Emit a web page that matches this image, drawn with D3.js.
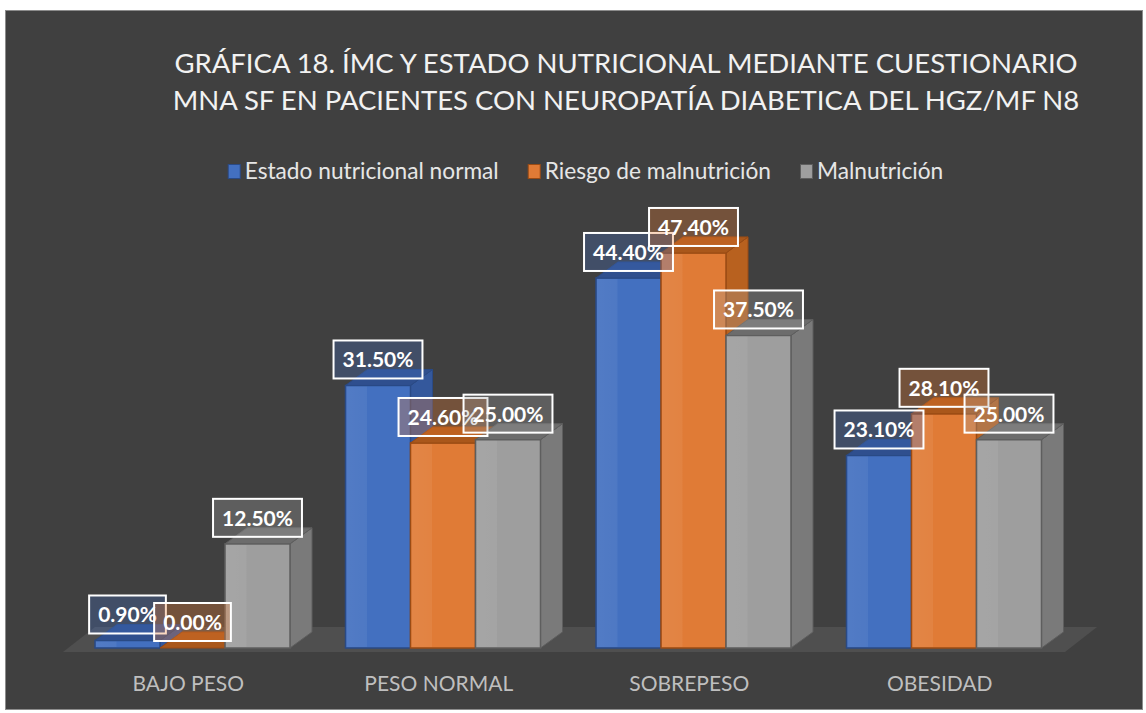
<!DOCTYPE html>
<html>
<head>
<meta charset="utf-8">
<script src="https://cdn.jsdelivr.net/npm/d3@7"></script>
<style>
  body { margin: 0; background: #ffffff; }
  svg { display: block; }
  text { font-family: Lato, "Open Sans", sans-serif; }
</style>
</head>
<body>
<div id="chart"></div>
<script>
// data
const categories = ['BAJO PESO', 'PESO NORMAL', 'SOBREPESO', 'OBESIDAD'];
const seriesNames = ['Estado nutricional normal', 'Riesgo de malnutrición', 'Malnutrición'];
const normalValues = [0.9, 31.5, 44.4, 23.1];
const riesgoValues = [0.0, 24.6, 47.4, 28.1];
const malnValues = [12.5, 25.0, 37.5, 25.0];
const titleLines = ['GRÁFICA 18. ÍMC Y ESTADO NUTRICIONAL MEDIANTE CUESTIONARIO',
                    'MNA SF EN PACIENTES CON NEUROPATÍA DIABETICA DEL HGZ/MF N8'];

const W = 1146, H = 713;
const seriesValues = [normalValues, riesgoValues, malnValues];

// colours per series: front, side, top, edge, label fill
const palette = [
  { front: '#4370c0', side: '#34589c', top: '#2f4f8e', edge: '#2a4a85', label: '#4472c4' },
  { front: '#e07b36', side: '#b8611f', top: '#a9571b', edge: '#9a4b14', label: '#ed7d31' },
  { front: '#9e9e9e', side: '#7a7a7a', top: '#6c6c6c', edge: '#5e5e5e', label: '#a5a5a5' }
];

const svg = d3.select('#chart').append('svg')
  .attr('width', W)
  .attr('height', H);

const defs = svg.append('defs');
palette.forEach((p, i) => {
  const g = defs.append('linearGradient').attr('id', 'shine' + i)
    .attr('x1', 0).attr('x2', 1).attr('y1', 0).attr('y2', 0);
  g.append('stop').attr('offset', 0).attr('stop-color', '#ffffff').attr('stop-opacity', 0.08);
  g.append('stop').attr('offset', 0.32).attr('stop-color', '#ffffff').attr('stop-opacity', 0.06);
  g.append('stop').attr('offset', 0.33).attr('stop-color', '#ffffff').attr('stop-opacity', 0);
  g.append('stop').attr('offset', 1).attr('stop-color', '#ffffff').attr('stop-opacity', 0);
});

// chart area
svg.append('rect')
  .attr('x', 5.5).attr('y', 10.5)
  .attr('width', 1137).attr('height', 699)
  .attr('fill', '#404040')
  .attr('stroke', '#8c8c8c')
  .attr('stroke-width', 1);

// title
const title = svg.append('text')
  .attr('text-anchor', 'middle')
  .attr('fill', '#f2f2f2')
  .style('font-size', '27.5px');
titleLines.forEach((t, i) => {
  title.append('tspan').attr('x', 626).attr('y', 73 + i * 37).text(t);
});

// legend
const legend = svg.append('g').attr('transform', 'translate(0,0)');
let lx = 0;
seriesNames.forEach((name, i) => {
  const item = legend.append('g').attr('transform', `translate(${lx},0)`);
  item.append('rect')
    .attr('x', 0.5).attr('y', 164.5)
    .attr('width', 12).attr('height', 14)
    .attr('fill', palette[i].front)
    .attr('stroke', palette[i].edge);
  const t = item.append('text')
    .attr('x', 17).attr('y', 179)
    .attr('fill', '#e6e6e6')
    .style('font-size', '22.7px')
    .text(name);
  lx += 17 + t.node().getComputedTextLength() + 29;
});
const legendW = lx - 29;
legend.attr('transform', `translate(${585.5 - legendW / 2},0)`);

// scales
const x0 = d3.scaleBand().domain(categories).range([63, 1065]);
const x1 = d3.scaleBand().domain(seriesNames).range([0, 195]);
const y = d3.scaleLinear().domain([0, 50]).range([648, 231.3]);

const depthX = 22, depthY = -16;   // bar depth projection
const floorDX = 32, floorDY = -25; // floor depth projection

// floor
const fy = 652;
svg.append('path')
  .attr('d', d3.line()([
    [x0.range()[0], fy], [x0.range()[1], fy],
    [x0.range()[1] + floorDX, fy + floorDY], [x0.range()[0] + floorDX, fy + floorDY]
  ]) + 'Z')
  .attr('fill', '#4f4f4f');

// bars
const barsG = svg.append('g');
const barData = [];
categories.forEach((c, ci) => {
  seriesNames.forEach((s, si) => {
    barData.push({ cat: c, series: s, si: si, value: seriesValues[si][ci] });
  });
});

const bw = x1.bandwidth();
barData.forEach(d => {
  const p = palette[d.si];
  const x = x0(d.cat) + floorDX + x1(d.series);
  const top = y(d.value), base = y(0);
  d.x = x; d.top = top;
  const g = barsG.append('g');
  // side face
  g.append('path')
    .attr('d', d3.line()([[x + bw, top], [x + bw + depthX, top + depthY],
      [x + bw + depthX, base + depthY], [x + bw, base]]) + 'Z')
    .attr('fill', p.side).attr('stroke', p.edge).attr('stroke-width', 1);
  // front face
  if (base - top > 0) {
    g.append('rect')
      .attr('x', x).attr('y', top)
      .attr('width', bw).attr('height', base - top)
      .attr('fill', p.front).attr('stroke', p.edge).attr('stroke-width', 1.5);
    g.append('rect')
      .attr('x', x + 1).attr('y', top + 1)
      .attr('width', bw - 2).attr('height', Math.max(0, base - top - 2))
      .attr('fill', `url(#shine${d.si})`);
  }
  // top face
  g.append('path')
    .attr('d', d3.line()([[x, top], [x + depthX, top + depthY],
      [x + bw + depthX, top + depthY], [x + bw, top]]) + 'Z')
    .attr('fill', p.top).attr('stroke', p.edge).attr('stroke-width', 1);
});

// data labels
const labelsG = svg.append('g');
barData.forEach(d => {
  const p = palette[d.si];
  const cx = d.x + bw / 2;
  const g = labelsG.append('g');
  const box = g.append('rect');
  const t = g.append('text')
    .attr('x', cx).attr('y', d.top - 7 - 11)
    .attr('text-anchor', 'middle')
    .attr('fill', '#ffffff')
    .style('font-size', '21px')
    .style('font-weight', 'bold')
    .text(d3.format('.2f')(d.value) + '%');
  const tw = t.node().getComputedTextLength();
  box.attr('x', cx - tw / 2 - 9).attr('y', d.top - 7 - 38)
    .attr('width', tw + 18).attr('height', 38)
    .attr('fill', p.label).attr('fill-opacity', 0.3)
    .attr('stroke', '#ffffff').attr('stroke-width', 2);
});

// category axis
const axis = svg.append('g')
  .attr('transform', `translate(0,${fy + 14})`)
  .call(d3.axisBottom(x0).tickSize(0).tickPadding(10));
axis.select('.domain').remove();
axis.selectAll('text')
  .attr('fill', '#bfbfbf')
  .style('font-family', 'Lato, sans-serif')
  .style('font-size', '21px');
</script>
</body>
</html>
